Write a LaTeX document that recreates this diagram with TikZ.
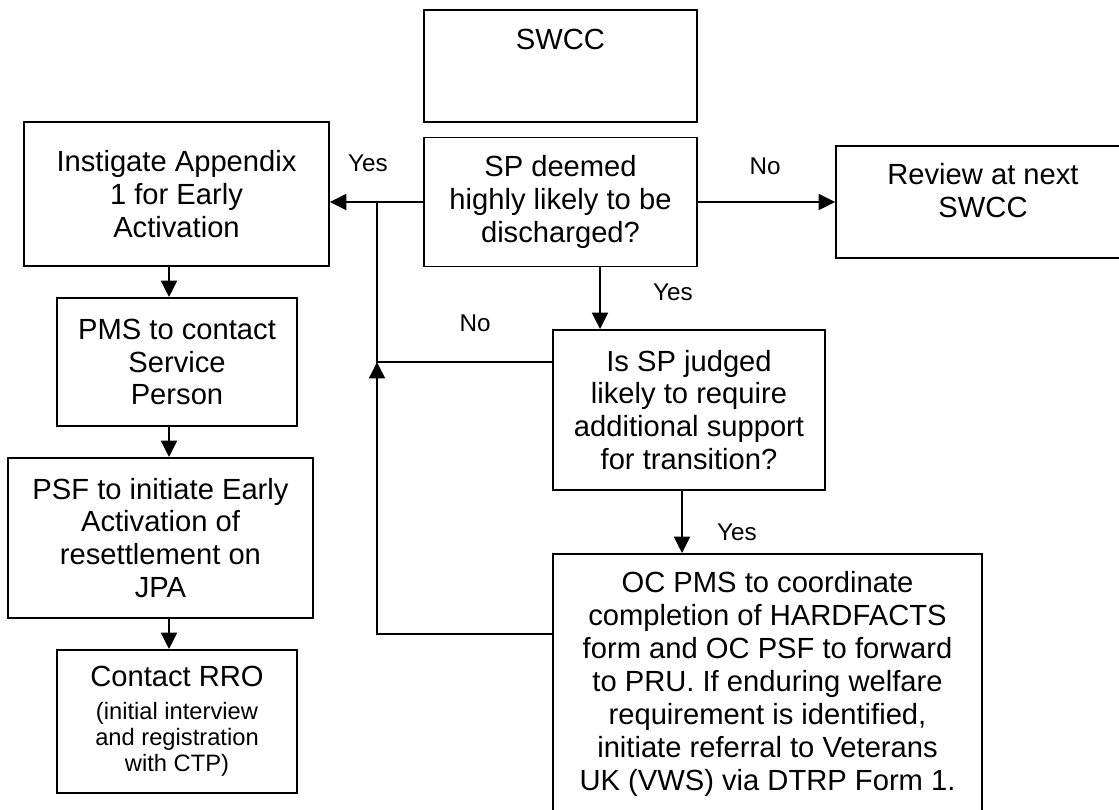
\documentclass[tikz,border=0pt]{standalone}
\usepackage{fontspec}
\setmainfont{Liberation Sans}
\usepackage{tikz}
\usetikzlibrary{arrows.meta,positioning}
\newcommand{\smallfs}{\fontsize{13.5}{15}\selectfont}

\begin{document}
\begin{tikzpicture}[x=0.02cm,y=-0.02cm,
  boxfont/.style={font=\fontsize{16.6}{18.7}\selectfont},
  box/.style={rectangle,draw=black,line width=1.1pt,inner sep=0pt,align=center,boxfont},
  lbl/.style={font=\fontsize{13.8}{15}\selectfont,inner sep=0pt},
  conn/.style={line width=1.1pt},
  arr/.style={conn,-{Triangle[length=0.33cm,width=0.32cm]}}]
\useasboundingbox (0,0) rectangle (1119,810);
% centre column
\node[box,minimum width=5.46cm,minimum height=2.24cm,label={[anchor=center,yshift=-0.6cm,boxfont]north:SWCC}] (swcc) at (560.5,66) {};
\node[box,minimum width=5.46cm,minimum height=2.58cm] (sp) at (560.5,202) {SP deemed\\highly likely to be\\discharged?};
\node[box,minimum width=5.88cm,minimum height=2.24cm,label={[anchor=center,align=center,yshift=0.23cm,boxfont]center:Review at next\\SWCC}] (rev) at (983,202) {};
\node[box,minimum width=5.44cm,minimum height=3.2cm] (isq) at (689,410) {Is SP judged\\likely to require\\additional support\\for transition?};
\node[box,minimum width=8.58cm,minimum height=5.2cm] (oc) at (767.5,684) {OC PMS to coordinate\\completion of HARDFACTS\\form and OC PSF to forward\\to PRU. If enduring welfare\\requirement is identified,\\initiate referral to Veterans\\UK (VWS) via DTRP Form 1.};
% left column
\node[box,minimum width=6.1cm,minimum height=2.88cm] (ins) at (176.5,194) {Instigate Appendix\\1 for Early\\Activation};
\node[box,minimum width=4.8cm,minimum height=2.56cm] (pms) at (177,362) {PMS to contact\\Service\\Person};
\node[box,minimum width=6.1cm,minimum height=3.2cm] (psf) at (160.5,538) {PSF to initiate Early\\Activation of\\resettlement on\\JPA};
\node[box,minimum width=4.8cm,minimum height=2.86cm] (rro) at (177,721.5) {Contact RRO\\\smallfs (initial interview\\[-4pt]\smallfs and registration\\[-4pt]\smallfs with CTP)};
% routing points
\coordinate (colL) at (169,0);
\coordinate (colM) at (600,0);
\coordinate (colR) at (682,0);
\coordinate (jn) at (377,202);
\coordinate (jm) at (377,362);
\coordinate (jb) at (377,634);
% connectors
\draw[arr] (sp.east) -- (rev.west);
\draw[arr] (sp.west) -- (ins.east |- sp.west);
\draw[arr] (sp.south -| colM) -- (isq.north -| colM);
\draw[arr] (isq.south -| colR) -- (oc.north -| colR);
\draw[conn] (isq.west |- jm) -- (jm) -- (jn);
\draw[arr] (oc.west |- jb) -- (jb) -- (jm);
\draw[arr] (ins.south -| colL) -- (pms.north -| colL);
\draw[arr] (pms.south -| colL) -- (psf.north -| colL);
\draw[arr] (psf.south -| colL) -- (rro.north -| colL);
% labels
\node[lbl] (yes1) at (368,163) {Yes};
\node[lbl] (no1) at (765,166) {No};
\node[lbl] (yes2) at (673,292) {Yes};
\node[lbl] (no2) at (475,323) {No};
\node[lbl] (yes3) at (737,532) {Yes};
\end{tikzpicture}
\end{document}
